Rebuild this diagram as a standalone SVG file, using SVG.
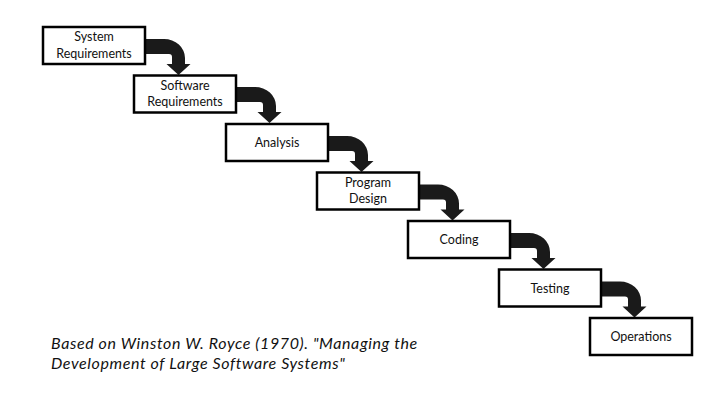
<svg xmlns="http://www.w3.org/2000/svg" width="720" height="405" viewBox="0 0 720 405">
<style>
.box{fill:#fff;stroke:#000;stroke-width:2.5}
.lbl{font-family:Lato,"Open Sans","Liberation Sans",sans-serif;font-size:12.5px;fill:#111;text-anchor:middle}
.arr{fill:#1a1a1a;stroke:none}
.cap{font-family:Lato,"Open Sans","Liberation Sans",sans-serif;font-size:16px;font-style:italic;letter-spacing:0.6px;fill:#111}
</style>
<rect width="720" height="405" fill="#fff"/>
<g id="connectors">
<path class="arr" d="M144,39 H164 A21 19 0 0 1 185,58 V64 H190.5 L178.5,75 L166.5,64 H172 V57 A3 3 0 0 0 169,54 H144 Z"/>
<path class="arr" d="M235,87 H255 A21 19 0 0 1 276,106 V112 H281.5 L269.5,123 L257.5,112 H263 V105 A3 3 0 0 0 260,102 H235 Z"/>
<path class="arr" d="M327,136 H347 A21 19 0 0 1 368,155 V161 H373.5 L361.5,172 L349.5,161 H355 V154 A3 3 0 0 0 352,151 H327 Z"/>
<path class="arr" d="M418,184.5 H438 A21 19 0 0 1 459,203.5 V209.5 H464.5 L452.5,220.5 L440.5,209.5 H446 V202.5 A3 3 0 0 0 443,199.5 H418 Z"/>
<path class="arr" d="M509,233 H529 A21 19 0 0 1 550,252 V258 H555.5 L543.5,269 L531.5,258 H537 V251 A3 3 0 0 0 534,248 H509 Z"/>
<path class="arr" d="M600,281.5 H620 A21 19 0 0 1 641,300.5 V306.5 H646.5 L634.5,317.5 L622.5,306.5 H628 V299.5 A3 3 0 0 0 625,296.5 H600 Z"/>
</g>
<g id="n1"><rect class="box" x="43" y="27" width="102" height="37"/><text class="lbl" x="94" y="41">System</text><text class="lbl" x="94" y="57.5">Requirements</text></g>
<g id="n2"><rect class="box" x="134" y="75.5" width="102" height="37"/><text class="lbl" x="185" y="89.5">Software</text><text class="lbl" x="185" y="106">Requirements</text></g>
<g id="n3"><rect class="box" x="226" y="124" width="102" height="37"/><text class="lbl" x="277" y="147">Analysis</text></g>
<g id="n4"><rect class="box" x="317" y="172.5" width="102" height="37"/><text class="lbl" x="368" y="186.5">Program</text><text class="lbl" x="368" y="203">Design</text></g>
<g id="n5"><rect class="box" x="408" y="221" width="102" height="37"/><text class="lbl" x="459" y="244">Coding</text></g>
<g id="n6"><rect class="box" x="499" y="269.5" width="102" height="37"/><text class="lbl" x="550" y="292.5">Testing</text></g>
<g id="n7"><rect class="box" x="590" y="318" width="102" height="37"/><text class="lbl" x="641" y="341">Operations</text></g>
<g id="caption">
<text class="cap" x="51" y="349">Based on Winston W. Royce (1970). "Managing the</text>
<text class="cap" x="51" y="368.5">Development of Large Software Systems"</text>
</g>
</svg>
